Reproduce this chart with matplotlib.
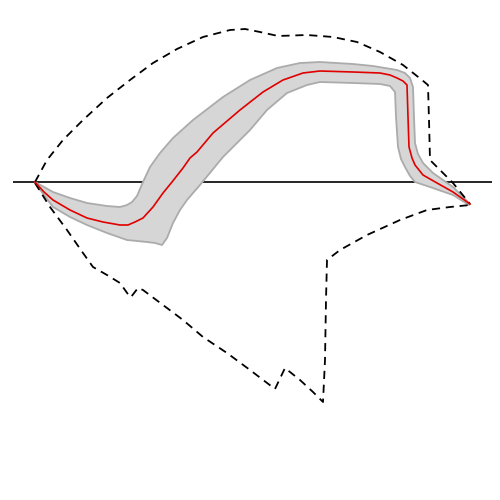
import matplotlib
matplotlib.use("Agg")
import matplotlib.pyplot as plt
import numpy as np

# Median curve
med_x = [0, 9, 18, 35, 52, 68, 85, 93, 100, 108, 118, 128, 137, 148, 155, 162, 178, 205, 228, 248, 268, 285, 318, 345, 355, 362, 368, 372, 373, 374, 377, 380, 388, 402, 418, 435]
med_y = [0, -10, -18, -28, -36, -40, -43, -43, -40, -36, -25, -11, 0, 14, 24, 30, 49, 72, 90, 102, 109, 111, 110, 109, 107, 104, 101, 97, 65, 35, 24, 17, 7, -1, -10, -22]

# Central band (outer / inner edges)
band_hi_x = [0, 18, 35, 52, 72, 85, 92, 97, 102, 105, 108, 115, 125, 138, 158, 188, 215, 242, 265, 285, 318, 338, 362, 370, 375, 378, 379, 380, 383, 388, 398, 418, 435]
band_hi_y = [0, -10, -16, -21, -24, -25, -23, -20, -14, -7, 0, 15, 29, 44, 62, 85, 102, 114, 119, 120, 118, 116, 112, 109, 104, 95, 65, 39, 28, 19, 9, -5, -22]
band_lo_x = [0, 18, 35, 52, 72, 92, 112, 120, 127, 132, 138, 145, 152, 165, 188, 215, 232, 252, 272, 285, 318, 345, 355, 360, 361, 363, 366, 370, 375, 380, 395, 418, 434]
band_lo_y = [-1, -25, -35, -43, -51, -58, -60, -61, -63, -56, -41, -28, -18, -3, 25, 52, 72, 89, 97, 100, 99, 98, 96, 90, 65, 35, 23, 15, 6, 0, -5, -13, -23]

# Outer envelope
env_hi_x = [0, 12, 28, 48, 72, 95, 118, 142, 168, 195, 210, 225, 243, 272, 298, 322, 345, 368, 387, 393, 394, 395, 405, 418, 435]
env_hi_y = [0, 22, 42, 62, 84, 102, 119, 133, 145, 152, 153, 150, 146, 147, 145, 140, 130, 117, 102, 97, 62, 22, 12, -1, -22]
env_lo_x = [0, 15, 32, 48, 58, 72, 85, 95, 96, 103, 108, 128, 148, 168, 192, 215, 240, 250, 265, 278, 288, 290, 291, 292, 305, 332, 365, 392, 415, 435]
env_lo_y = [-1, -25, -48, -71, -85, -93, -101, -115, -115, -106, -108, -123, -138, -155, -171, -188, -207, -186, -198, -210, -220, -178, -118, -78, -68, -53, -38, -28, -25, -23]

fig = plt.figure(figsize=(5, 5), dpi=100)
ax = fig.add_axes([13.25 / 500, 0, 478.5 / 500, 1])
ax.set_xlim(-21.75, 456.75)
ax.set_ylim(-318, 182)
ax.axis("off")

ax.axhline(0, color="black", lw=1.2, zorder=1)

poly_x = band_hi_x + band_lo_x[::-1]
poly_y = band_hi_y + band_lo_y[::-1]
ax.fill(poly_x, poly_y, facecolor="#d6d6d6", edgecolor="#ababab", lw=1.3,
        joinstyle="round", zorder=2)

ax.plot(env_hi_x, env_hi_y, color="black", lw=1.3, ls=(0, (4.5, 3.2)), zorder=3)
ax.plot(env_lo_x, env_lo_y, color="black", lw=1.3, ls=(0, (4.5, 3.2)), zorder=3)
ax.plot(med_x, med_y, color="#e00000", lw=1.2, solid_joinstyle="round", zorder=4)

fig.savefig("out.png", dpi=100)
